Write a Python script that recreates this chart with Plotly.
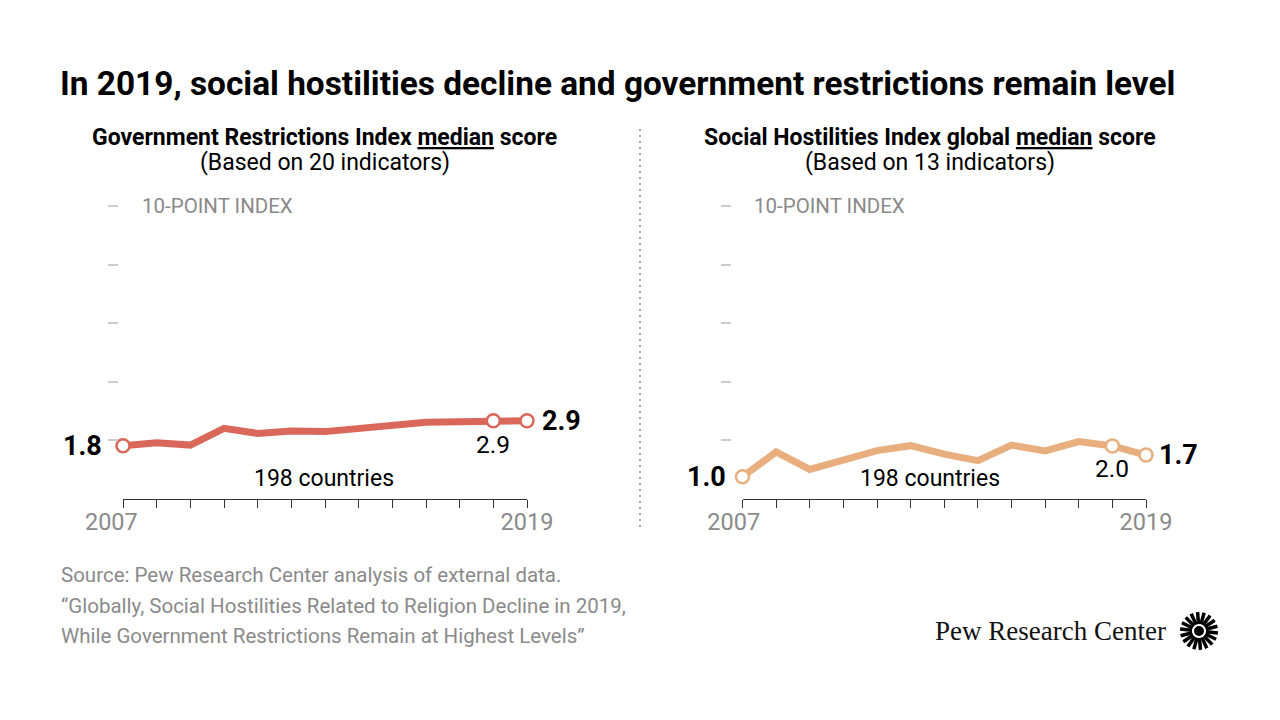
import math
import plotly.graph_objects as go

W, H = 1280, 720

# ---- data ----
years = list(range(2007, 2020))
gri_values = [1.82, 1.92, 1.84, 2.41, 2.24, 2.32, 2.30, 2.39, 2.53, 2.62, 2.64, 2.67, 2.67]
shi_values = [0.76, 1.61, 1.01, 1.33, 1.65, 1.82, 1.53, 1.31, 1.84, 1.64, 1.96, 1.81, 1.50]
marked_years = [2007, 2018, 2019]
gri_labels = ["1.8", "2.9", "2.9"]
shi_labels = ["1.0", "2.0", "1.7"]
ytick_vals = [2, 4, 6, 8, 10]
first_year_label = "2007"
last_year_label = "2019"

GRI_COLOR = "#D9675A"
SHI_COLOR = "#E8AE7E"
GRAY = "#8a8a8a"
FONT = "Roboto"


def px(x):
    return x / W


def py(y):
    return 1 - y / H


def xticktext(pad):
    return [first_year_label + "&nbsp;" * pad] + [""] * (len(years) - 2) + [last_year_label]


fig = go.Figure()

ydom = [py(499), py(206)]

for idx, (vals, color) in enumerate([(gri_values, GRI_COLOR), (shi_values, SHI_COLOR)]):
    xa = "x" if idx == 0 else "x2"
    ya = "y" if idx == 0 else "y2"
    fig.add_trace(go.Scatter(x=years, y=vals, mode="lines", xaxis=xa, yaxis=ya,
                             line=dict(color=color, width=7), cliponaxis=False,
                             hoverinfo="skip", showlegend=False))
    mv = [vals[years.index(yv)] for yv in marked_years]
    fig.add_trace(go.Scatter(x=marked_years, y=mv, mode="markers", xaxis=xa, yaxis=ya,
                             marker=dict(size=13, color="white", line=dict(color=color, width=2.5)),
                             cliponaxis=False, hoverinfo="skip", showlegend=False))

xcommon = dict(range=[2007, 2019], showgrid=False, zeroline=False, showline=True,
               linecolor="#333333", linewidth=1, ticks="outside", ticklen=8,
               tickcolor="#333333", tickwidth=1, tickvals=years,
               tickfont=dict(family=FONT, size=23.5, color=GRAY), fixedrange=True,
               automargin=False, ticklabelstandoff=-6)
ycommon = dict(range=[0, 10], domain=ydom, showgrid=False, zeroline=False, showline=False,
               ticks="outside", ticklen=10, tickwidth=2, tickcolor="#cccccc",
               tickvals=ytick_vals, showticklabels=False, anchor="free", fixedrange=True,
               automargin=False)

fig.update_layout(
    template="none",
    width=W, height=H, margin=dict(l=0, r=0, t=0, b=0, pad=0, autoexpand=False),
    paper_bgcolor="white", plot_bgcolor="white",
    xaxis=dict(domain=[px(123), px(527)], anchor="y", ticktext=xticktext(4), **xcommon),
    xaxis2=dict(domain=[px(742.5), px(1146)], anchor="y2", ticktext=xticktext(3), **xcommon),
    yaxis=dict(position=px(118), **ycommon),
    yaxis2=dict(position=px(731), **ycommon),
    font=dict(family=FONT),
)

ann = []


def A(text, x, y, size, color="black", xanchor="left", yanchor="middle", **kw):
    d = dict(text=text, x=x, y=y, xref=kw.pop("xref", "paper"), yref=kw.pop("yref", "paper"),
             showarrow=False, xanchor=xanchor, yanchor=yanchor,
             font=dict(family=kw.pop("family", FONT), size=size, color=color))
    d.update(kw)
    ann.append(d)


# Title
A("<b>In 2019, social hostilities decline and government restrictions remain level</b>",
  px(58), py(83), 33.4)

# Subplot titles
A("<b>Government Restrictions Index <span style='text-decoration:underline'>median</span> score</b>",
  px(324.5), py(137), 23, xanchor="center")
A("(Based on 20 indicators)", px(324.5), py(163), 23, xanchor="center")
A("<b>Social Hostilities Index global <span style='text-decoration:underline'>median</span> score</b>",
  px(930), py(137), 23, xanchor="center")
A("(Based on 13 indicators)", px(930), py(163), 23, xanchor="center")

# Index labels
A("10-POINT INDEX", px(140), 10, 20.5, color=GRAY, yref="y")
A("10-POINT INDEX", px(752), 10, 20.5, color=GRAY, yref="y2")

# 198 countries
A("198 countries", px(323.5), py(478), 23, xanchor="center")
A("198 countries", px(930), py(478), 23, xanchor="center")

# Value labels
for labels, vals, xr, yr, shifts in [
    (gri_labels, gri_values, "x", "y", [(-19, 0), (0, -24), (13, 0)]),
    (shi_labels, shi_values, "x2", "y2", [(-15, 0), (0, -23), (11, 0)]),
]:
    for i, (yr_, lab) in enumerate(zip(marked_years, labels)):
        v = vals[years.index(yr_)]
        dx, dy = shifts[i]
        if i == 0:
            A("<b>" + lab + "</b>", yr_, v, 27, xanchor="right", xref=xr, yref=yr, xshift=dx, yshift=dy)
        elif i == 1:
            A(lab, yr_, v, 24.5, xanchor="center", xref=xr, yref=yr, xshift=dx, yshift=dy)
        else:
            A("<b>" + lab + "</b>", yr_, v, 27, xanchor="left", xref=xr, yref=yr, xshift=dx, yshift=dy)

# Footer
A("Source: Pew Research Center analysis of external data.", px(59), py(575), 20.5, color=GRAY)
A("\u201cGlobally, Social Hostilities Related to Religion Decline in 2019,", px(59), py(606), 20.5, color=GRAY)
A("While Government Restrictions Remain at Highest Levels\u201d", px(59), py(636), 20.5, color=GRAY)

# Logo text
A("Pew Research Center", px(1168), py(631), 27, xanchor="right", family="Liberation Serif", color="#111111")

fig.update_layout(annotations=ann)

shapes = []
# Divider
shapes.append(dict(type="line", xref="paper", yref="paper", x0=px(640), x1=px(640),
                   y0=py(129), y1=py(528), line=dict(color="#aaaaaa", width=2, dash="2px,4px")))
# Sunburst logo
cx, cy = 1199, 631
n = 18
for k in range(n):
    a = 2 * math.pi * k / n + 0.1
    r0, r1 = 7, 19
    shapes.append(dict(type="line", xref="paper", yref="paper",
                       x0=px(cx + r0 * math.cos(a)), y0=py(cy + r0 * math.sin(a)),
                       x1=px(cx + r1 * math.cos(a)), y1=py(cy + r1 * math.sin(a)),
                       line=dict(color="black", width=3.5)))
shapes.append(dict(type="circle", xref="paper", yref="paper", x0=px(cx - 5), x1=px(cx + 5),
                   y0=py(cy + 5), y1=py(cy - 5), fillcolor="black", line=dict(width=0)))
fig.update_layout(shapes=shapes)

fig.write_html("out.html", config={"displayModeBar": False, "staticPlot": True},
               post_script="document.body.style.margin='0';document.body.style.overflow='hidden';")
